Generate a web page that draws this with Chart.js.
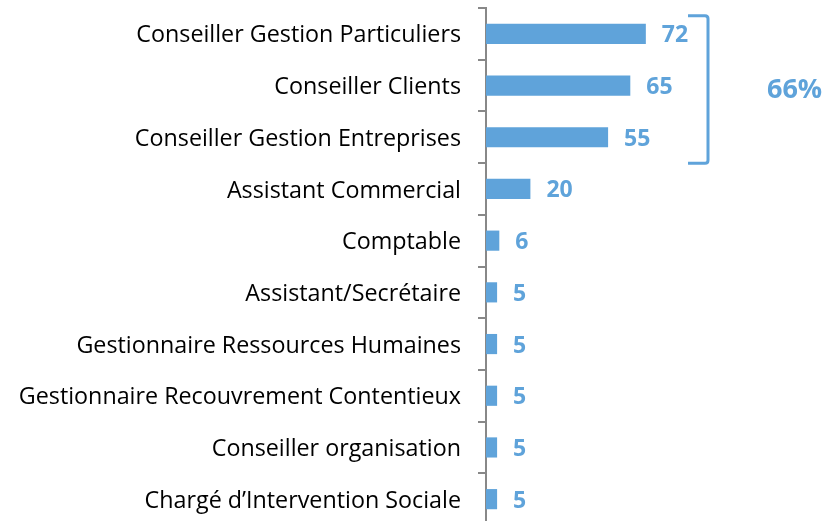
<!DOCTYPE html>
<html>
<head>
<meta charset="utf-8">
<script src="https://cdn.jsdelivr.net/npm/chart.js@4/dist/chart.umd.min.js"></script>
<style>
  html, body { margin: 0; padding: 0; background: #fff; overflow: hidden; }
  #wrap { position: relative; width: 839px; height: 530px; }
</style>
</head>
<body>
<div id="wrap"><canvas id="metiers"></canvas></div>
<script>
const LABELS = [
    'Conseiller Gestion Particuliers',
    'Conseiller Clients',
    'Conseiller Gestion Entreprises',
    'Assistant Commercial',
    'Comptable',
    'Assistant/Secrétaire',
    'Gestionnaire Ressources Humaines',
    'Gestionnaire Recouvrement Contentieux',
    'Conseiller organisation',
    'Chargé d\u2019Intervention Sociale'
];
const VALUES = [72, 65, 55, 20, 6, 5, 5, 5, 5, 5];
const GROUP_TEXT = '66%';   // share of the top three jobs
const GROUP_RANGE = [0, 2]; // bracket covers these bars

const BLUE = '#5fa3da';
const AXIS_GREY = '#888888';
const FONT = '"Open Sans", sans-serif';

// value at the end of each bar + bracket around the top group
const barLabels = {
    id: 'barLabels',
    afterDatasetsDraw(chart) {
        const ctx = chart.ctx;
        const meta = chart.getDatasetMeta(0);
        ctx.save();
        ctx.fillStyle = BLUE;
        ctx.font = 'bold 23px ' + FONT;
        ctx.textAlign = 'left';
        ctx.textBaseline = 'middle';
        meta.data.forEach((bar, i) => {
            ctx.fillText(String(VALUES[i]), bar.x + 16, bar.y + 2);
        });

        const x = chart.scales.x;
        const y = chart.scales.y;
        const top = y.getPixelForValue(GROUP_RANGE[0]) - 18;
        const bottom = y.getPixelForValue(GROUP_RANGE[1]) + 26;
        const right = x.getPixelForValue(100);
        const left = x.getPixelForValue(91);
        ctx.strokeStyle = BLUE;
        ctx.lineWidth = 3;
        ctx.lineJoin = 'round';
        ctx.beginPath();
        ctx.moveTo(left, top);
        ctx.lineTo(right - 3, top);
        ctx.quadraticCurveTo(right, top, right, top + 3);
        ctx.lineTo(right, bottom - 3);
        ctx.quadraticCurveTo(right, bottom, right - 3, bottom);
        ctx.lineTo(left, bottom);
        ctx.stroke();

        ctx.font = 'bold 27px ' + FONT;
        ctx.textAlign = 'center';
        ctx.fillText(GROUP_TEXT, x.getPixelForValue(139), (top + bottom) / 2 + 1);
        ctx.restore();
    }
};

new Chart(document.getElementById('metiers'), {
    type: 'bar',
    data: {
        labels: LABELS,
        datasets: [{
            data: VALUES,
            backgroundColor: BLUE,
            barPercentage: 0.39,
            categoryPercentage: 1
        }]
    },
    options: {
        indexAxis: 'y',
        responsive: true,
        maintainAspectRatio: false,
        animation: false,
        layout: { padding: { top: 8, right: 20, bottom: 5, left: 0 } },
        plugins: {
            legend: { display: false },
            tooltip: { enabled: false }
        },
        scales: {
            x: {
                display: false,
                min: 0,
                max: 150
            },
            y: {
                afterFit(scale) {
                    scale.width = 486;
                    // labels sit inside their bands, no extra room needed
                    scale.paddingTop = 0;
                    scale.paddingBottom = 0;
                },
                grid: {
                    drawOnChartArea: false,
                    drawTicks: true,
                    tickLength: 8,
                    color: AXIS_GREY,
                    lineWidth: 2
                },
                border: { color: AXIS_GREY, width: 2 },
                ticks: {
                    color: '#000',
                    padding: 17,
                    labelOffset: 2,
                    font: { family: FONT, size: 23.3 }
                }
            }
        }
    },
    plugins: [barLabels]
});
</script>
</body>
</html>
